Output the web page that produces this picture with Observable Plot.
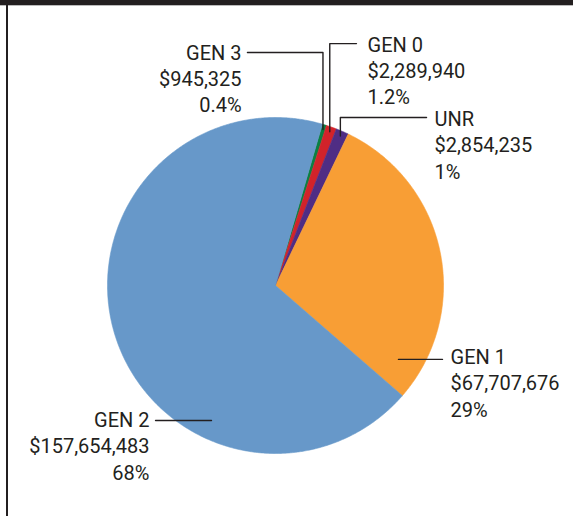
<!DOCTYPE html>
<html>
<head>
<meta charset="utf-8">
<script src="https://cdn.jsdelivr.net/npm/d3@7"></script>
<script src="https://cdn.jsdelivr.net/npm/@observablehq/plot@0.6"></script>
<style>
  html, body { margin: 0; padding: 0; background: #fff; }
  #wrap { position: relative; width: 573px; height: 516px; overflow: hidden; }
  #topbar { position: absolute; left: 0; top: 0; width: 573px; height: 5px; background: #231f20; border-bottom: 1px solid #bbb; }
  #leftline { position: absolute; left: 6px; top: 5px; width: 1.5px; height: 511px; background: #231f20; }
  #chart { position: absolute; left: 0; top: 0; }
</style>
</head>
<body>
<div id="wrap">
  <div id="chart"></div>
  <div id="topbar"></div>
  <div id="leftline"></div>
</div>
<script>
// ---- data ----
const categories = ["GEN 3", "GEN 0", "UNR", "GEN 1", "GEN 2"];
const values = [945325, 2289940, 2854235, 67707676, 157654483];
const amountLabels = ["$945,325", "$2,289,940", "$2,854,235", "$67,707,676", "$157,654,483"];
const percentLabels = ["0.4%", "1.2%", "1%", "29%", "68%"];
const colors = ["#0b8043", "#d2232a", "#4f2d84", "#f89e35", "#6798c9"];

// ---- layout (pie units: radius = 1) ----
const startDeg = 16.2;
const lineStep = 0.1565;
const layout = {
  "GEN 3": {tx: -0.202, ty: 1.381, anchor: "end",   ly: 1.387, lend: -0.167, small: true},
  "GEN 0": {tx: 0.548,  ty: 1.429, anchor: "start", ly: 1.440, lend: 0.482,  small: true},
  "UNR":   {tx: 0.946,  ty: 0.988, anchor: "start", ly: 1.000, lend: 0.899,  small: true},
  "GEN 1": {tx: 1.042,  ty: -0.429, anchor: "start", ly: -0.440, lstart: 0.732, lend: 0.994},
  "GEN 2": {tx: -0.750, ty: -0.804, anchor: "end",  ly: -0.804, lstart: -0.381, lend: -0.714}
};

const rows = categories.map((c, i) => ({key: c, value: values[i]}));
const arcs = d3.pie().sort(null).value(d => d.value)
  .startAngle(startDeg * Math.PI / 180)
  .endAngle(startDeg * Math.PI / 180 + 2 * Math.PI)(rows);

// slice polygons
const slicePts = [];
for (const a of arcs) {
  const k = a.data.key;
  slicePts.push({key: k, x: 0, y: 0});
  const n = Math.max(2, Math.ceil((a.endAngle - a.startAngle) / (0.4 * Math.PI / 180)));
  for (let j = 0; j <= n; j++) {
    const t = a.startAngle + (a.endAngle - a.startAngle) * j / n;
    slicePts.push({key: k, x: Math.sin(t), y: Math.cos(t)});
  }
  slicePts.push({key: k, x: 0, y: 0});
}

// leader lines
const leaderPts = [];
for (const a of arcs) {
  const k = a.data.key, L = layout[k];
  if (L.small) {
    const mid = (a.startAngle + a.endAngle) / 2;
    const px = Math.sin(mid) * 0.97, py = Math.cos(mid) * 0.97;
    leaderPts.push({key: k, x: px, y: py}, {key: k, x: px, y: L.ly}, {key: k, x: L.lend, y: L.ly});
  } else {
    leaderPts.push({key: k, x: L.lstart, y: L.ly}, {key: k, x: L.lend, y: L.ly});
  }
}

// label text rows
const textRows = [];
categories.forEach((c, i) => {
  const L = layout[c];
  [c, amountLabels[i], percentLabels[i]].forEach((t, j) => {
    textRows.push({key: c, text: t, x: L.tx, y: L.ty - j * lineStep, anchor: L.anchor});
  });
});

const cx = 275, cy = 285, R = 168;
const chart = Plot.plot({
  width: 573,
  height: 516,
  x: {domain: [-1, 1], range: [cx - R, cx + R], axis: null},
  y: {domain: [-1, 1], range: [cy + R, cy - R], axis: null},
  color: {domain: categories, range: colors},
  style: {fontFamily: "Roboto, sans-serif", background: "transparent", overflow: "visible"},
  marks: [
    Plot.line(slicePts, {x: "x", y: "y", z: "key", fill: "key", stroke: "key", strokeWidth: 0.6, curve: "linear"}),
    Plot.line(leaderPts, {x: "x", y: "y", z: "key", stroke: "#231f20", strokeWidth: 1.4, curve: "linear"}),
    Plot.text(textRows.filter(d => d.anchor === "start"), {x: "x", y: "y", text: "text", textAnchor: "start", fontSize: 20, fill: "#231f20"}),
    Plot.text(textRows.filter(d => d.anchor === "end"), {x: "x", y: "y", text: "text", textAnchor: "end", fontSize: 20, fill: "#231f20"})
  ]
});
document.getElementById("chart").appendChild(chart);
</script>
</body>
</html>
